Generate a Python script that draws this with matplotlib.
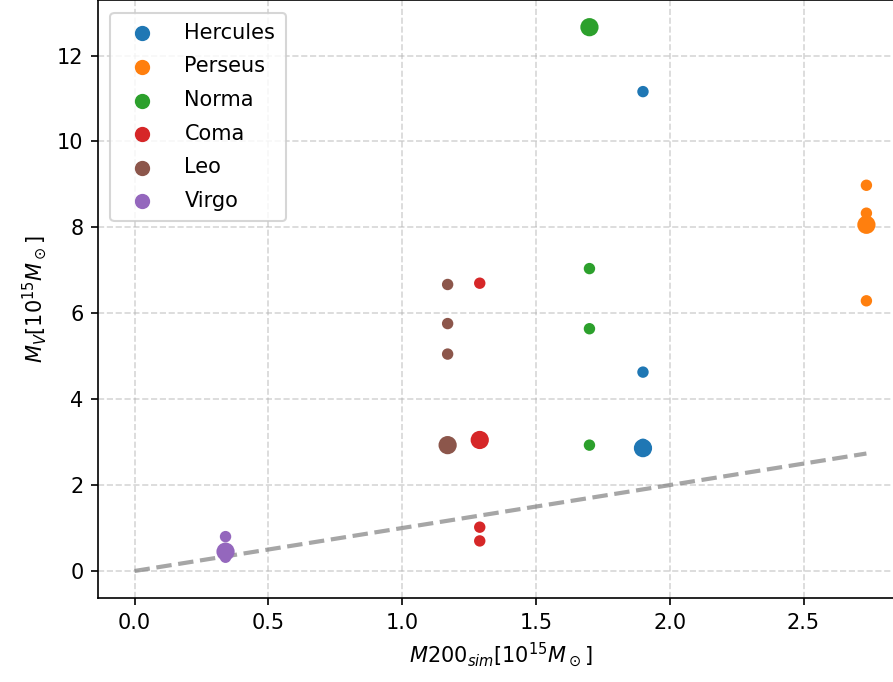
import matplotlib.pyplot as plt
import numpy as np

# M200 from the simulation and virial mass estimates per cluster (10^15 Msun)
CLUSTERS = ["Hercules", "Perseus", "Norma", "Coma", "Leo", "Virgo"]
COLORS = ["tab:blue", "tab:orange", "tab:green", "tab:red", "tab:brown", "tab:purple"]

M200_SIM = [1.90, 2.735, 1.70, 1.29, 1.17, 0.34]

# estimator values, first entry is the reference estimate (drawn larger)
MV_HERCULES = [2.86, 11.16, 4.63, 2.95]
MV_PERSEUS = [8.06, 8.98, 8.33, 6.29]
MV_NORMA = [12.66, 7.04, 5.64, 2.93]
MV_COMA = [3.05, 6.70, 1.02, 0.70]
MV_LEO = [2.93, 6.67, 5.76, 5.05]
MV_VIRGO = [0.45, 0.80, 0.52, 0.32]

MV = [MV_HERCULES, MV_PERSEUS, MV_NORMA, MV_COMA, MV_LEO, MV_VIRGO]

fig = plt.figure(figsize=(893 / 150, 682 / 150), dpi=150)
ax = fig.add_axes([0.1097, 0.1229, 0.9015, 0.8771])

for name, color, m200, mv in zip(CLUSTERS, COLORS, M200_SIM, MV):
    sizes = [60] + [20] * (len(mv) - 1)
    ax.scatter(np.full(len(mv), m200), mv, s=sizes, color=color, label=name, zorder=3)

m_max = max(M200_SIM)
ax.plot([0, m_max], [0, m_max], ls="--", lw=2, color="gray", alpha=0.7, zorder=2)

ax.grid(linestyle="--", alpha=0.5)
ax.set_xlabel(r"$M200_{sim}[10^{15}M_\odot]$")
ax.set_ylabel(r"$M_V[10^{15}M_\odot]$")
ax.legend(loc="upper left", labelspacing=0.65, handletextpad=1.05,
          borderpad=0.5, borderaxespad=0.6)

fig.savefig("out.png", dpi=150)
